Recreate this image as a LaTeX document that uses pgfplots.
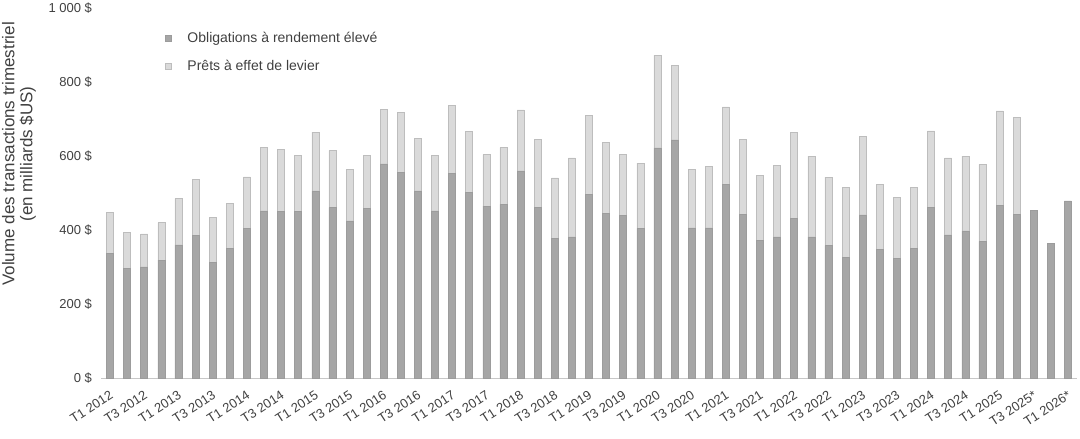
\documentclass[border=0pt]{standalone}
\usepackage{pgfplots}
\pgfplotsset{compat=1.18}
\usepackage{fontspec}
\setmainfont{Liberation Sans}
\definecolor{darkbar}{HTML}{A6A6A6}
\definecolor{darkedge}{HTML}{9C9C9C}
\definecolor{lightbar}{HTML}{DADADA}
\definecolor{lightedge}{HTML}{BDBDBD}
\definecolor{txt}{HTML}{404040}
\begin{document}
\begin{tikzpicture}
\begin{axis}[
  at={(0,0)}, anchor=south west,
  scale only axis, width=975pt, height=370.3pt,
  ybar stacked, bar width=7pt,
  xmin=-0.5, xmax=56.5, ymin=0, ymax=1000,
  xtick={0,2,...,56},
  xticklabels={T1 2012,T3 2012,T1 2013,T3 2013,T1 2014,T3 2014,T1 2015,T3 2015,T1 2016,T3 2016,T1 2017,T3 2017,T1 2018,T3 2018,T1 2019,T3 2019,T1 2020,T3 2020,T1 2021,T3 2021,T1 2022,T3 2022,T1 2023,T3 2023,T1 2024,T3 2024,T1 2025,T3 2025*,T1 2026*},
  ytick={0,200,400,600,800,1000},
  yticklabels={0 \$,200 \$,400 \$,600 \$,800 \$,1 000 \$},
  axis lines*=left,
  x axis line style={draw=black!22,-},
  y axis line style={draw=none},
  major tick length=0pt,
  tick style={draw=none},
  xticklabel style={rotate=33, anchor=north east, font=\fontsize{13}{13}\selectfont, text=txt, xshift=-4pt, yshift=-6pt},
  yticklabel style={font=\fontsize{13}{13}\selectfont, text=txt, xshift=-6pt},
  ylabel={Volume des transactions trimestriel\\(en milliards \$US)},
  ylabel style={at={(axis description cs:-0.0846,0.606)}, anchor=center, align=center, font=\fontsize{17}{18}\selectfont, text=txt},
  legend cell align=left,
  legend style={at={(axis description cs:0.0651,0.94)}, anchor=north west, draw=none, fill=none, font=\fontsize{14}{14}\selectfont, text=txt, row sep=12pt, inner sep=0pt},
  legend image code/.code={\fill[#1] (0pt,-3pt) rectangle (6pt,3pt); \path[draw=none,fill=none] (0pt,0pt) -- (20pt,0pt);},
]
\addplot[fill=darkbar, draw=darkedge, line width=0.6pt] coordinates {
(0,338) (1,297) (2,301) (3,319) (4,360) (5,386) (6,312) (7,350) (8,404) (9,452)
(10,450) (11,450) (12,506) (13,461) (14,425) (15,459) (16,579) (17,557) (18,506) (19,452)
(20,554) (21,503) (22,465) (23,470) (24,560) (25,462) (26,378) (27,382) (28,497) (29,446)
(30,439) (31,405) (32,622) (33,644) (34,406) (35,406) (36,523) (37,443) (38,372) (39,382)
(40,432) (41,382) (42,358) (43,327) (44,441) (45,349) (46,324) (47,351) (48,462) (49,387)
(50,398) (51,370) (52,466) (53,442) (54,454) (55,365) (56,479)};
\addlegendentry{Obligations à rendement élevé}
\addplot[fill=lightbar, draw=lightedge, line width=0.6pt] coordinates {
(0,110) (1,98) (2,89) (3,101) (4,125) (5,151) (6,122) (7,123) (8,140) (9,171)
(10,168) (11,152) (12,159) (13,154) (14,139) (15,143) (16,148) (17,161) (18,141) (19,150)
(20,183) (21,164) (22,139) (23,153) (24,165) (25,184) (26,163) (27,213) (28,214) (29,192)
(30,165) (31,176) (32,251) (33,202) (34,158) (35,166) (36,210) (37,203) (38,176) (39,194)
(40,233) (41,218) (42,185) (43,188) (44,213) (45,174) (46,164) (47,165) (48,206) (49,208)
(50,202) (51,208) (52,256) (53,263)};
\addlegendentry{Prêts à effet de levier}
\end{axis}
\pgfresetboundingbox
\path (-101.5pt,-60.7pt) rectangle (978.5pt,378.3pt);
\end{tikzpicture}
\end{document}
